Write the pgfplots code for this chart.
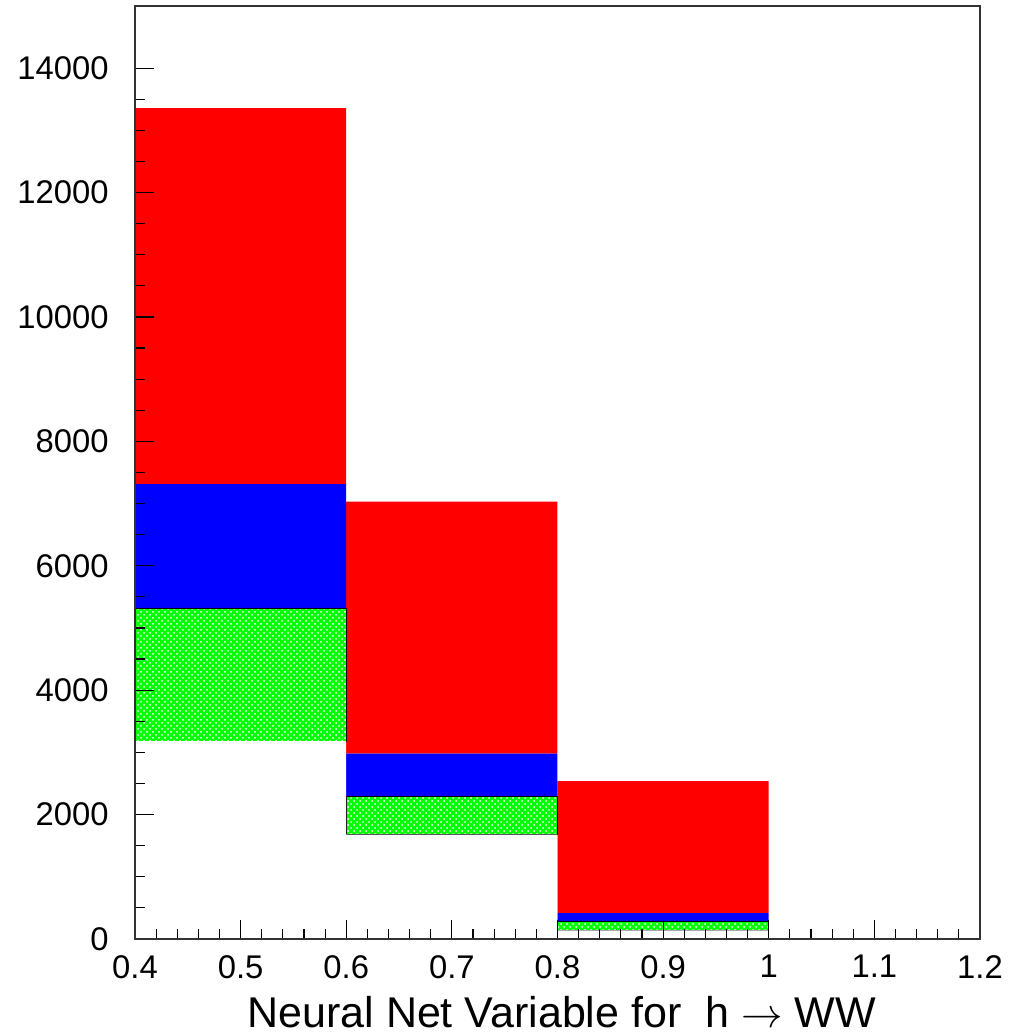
\documentclass[border=0pt]{standalone}
\usepackage{pgfplots}
\pgfplotsset{compat=1.18}
\usepackage{fontspec}
\setmainfont{Liberation Sans}
\usetikzlibrary{patterns}
\begin{document}
\begin{tikzpicture}
\useasboundingbox (-67.5pt,-48pt) rectangle (443.5pt,469.5pt);
\begin{axis}[
  at={(0pt,0pt)}, anchor=south west,
  scale only axis, width=422.5pt, height=466.5pt,
  xmin=0.4, xmax=1.2, ymin=0, ymax=15000,
  ybar stacked, bar width=0.2, bar shift=0pt,
  axis on top=true,
  axis line style={line width=0.8pt, black!80},
  xtick={0.4,0.5,...,1.21},
  xticklabels={0.4,0.5,0.6,0.7,0.8,0.9,1,1.1,1.2},
  minor x tick num=4,
  ytick={0,2000,...,14000},
  minor y tick num=3,
  scaled y ticks=false,
  tick align=inside,
  xtick pos=bottom, ytick pos=left,
  major tick length=9.5pt, minor tick length=5pt,
  every tick/.style={black, line width=0.6pt},
  every minor tick/.style={black, line width=0.6pt},
  /pgf/number format/assume math mode=true,
  /pgf/number format/set thousands separator={},
  tick label style={font=\fontsize{16.4}{19}\selectfont, inner sep=0pt},
  yticklabel style={anchor=east, xshift=-13pt},
  xticklabel style={anchor=north, yshift=-8pt},
  xlabel={Neural Net Variable for\ \ h $\rightarrow$ WW},
  xlabel style={font=\fontsize{21.5}{25}\selectfont, at={(axis description cs:0.505,0)}, anchor=base, yshift=-44.5pt, inner sep=0pt},
]
\addplot[fill=white, draw=none] coordinates {(0.5,3183) (0.7,1677) (0.9,137)};
\addplot[fill=green, draw=black, line width=0.4pt, postaction={pattern=crosshatch dots, pattern color=white}] coordinates {(0.5,2131) (0.7,621) (0.9,149)};
\addplot[fill=blue, draw=none] coordinates {(0.5,2000) (0.7,682) (0.9,129)};
\addplot[fill=red, draw=none] coordinates {(0.5,6046) (0.7,4050) (0.9,2125)};
\end{axis}
\end{tikzpicture}
\end{document}
